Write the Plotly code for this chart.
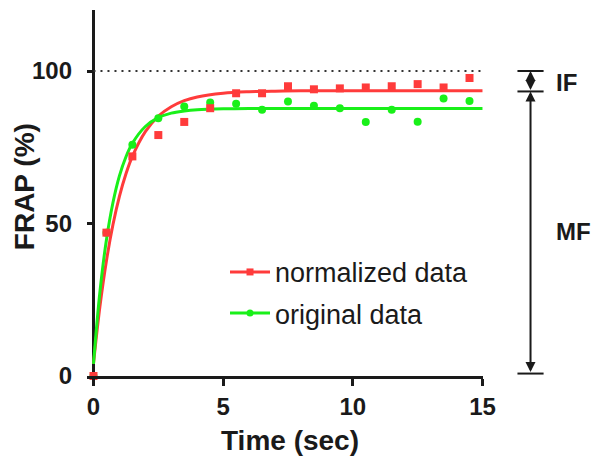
import plotly.graph_objects as go

# ---------------- data ----------------
time_pts = [0, 0.5, 1.5, 2.5, 3.5, 4.5, 5.5, 6.5, 7.5, 8.5, 9.5, 10.5, 11.5, 12.5, 13.5, 14.5]
normalized = [0, 47, 72, 79, 83.3, 87.8, 92.7, 92.7, 95, 94, 94.3, 94.6, 95, 95.7, 94.6, 97.7]
original = [0, 47, 75.8, 84.5, 88.4, 89.7, 89.3, 87.3, 90, 88.6, 87.8, 83.3, 87.3, 83.4, 91, 90.2]

fit_time = [0, 0.25, 0.5, 0.75, 1, 1.25, 1.5, 2, 2.5, 3, 3.5, 4, 5, 6, 7, 8, 10, 12, 15]
fit_normalized = [4, 22.9, 37.8, 49.6, 58.9, 66.2, 72.0, 80.1, 85.2, 88.3, 90.3, 91.5, 92.7, 93.2, 93.4, 93.5, 93.5, 93.5, 93.5]
fit_original = [4, 27.7, 44.7, 56.8, 65.6, 71.8, 76.3, 81.8, 84.7, 86.2, 86.9, 87.3, 87.6, 87.7, 87.7, 87.7, 87.7, 87.7, 87.7]

x_ticks = [0, 5, 10, 15]
y_ticks = [0, 50, 100]
reference_level = 100
plateau_level = 93.3
bottom_level = 0.8

RED = "#ff3b3b"
GREEN = "#19f019"
DARK = "#1a1a1a"
FONT = "Liberation Sans"

fig = go.Figure()

# fitted curves
fig.add_trace(go.Scatter(x=fit_time, y=fit_normalized, mode="lines", line=dict(color=RED, width=3, shape="spline"),
                         showlegend=False, cliponaxis=False))
fig.add_trace(go.Scatter(x=fit_time, y=fit_original, mode="lines", line=dict(color=GREEN, width=3, shape="spline"),
                         showlegend=False, cliponaxis=False))
# data points
fig.add_trace(go.Scatter(x=time_pts, y=original, mode="markers", marker=dict(color=GREEN, symbol="circle", size=8),
                         showlegend=False, cliponaxis=False))
fig.add_trace(go.Scatter(x=time_pts, y=normalized, mode="markers", marker=dict(color=RED, symbol="square", size=8),
                         showlegend=False, cliponaxis=False))
# legend entries
fig.add_trace(go.Scatter(x=[None], y=[None], mode="lines+markers", name="normalized data", legendgroup="a",
                         line=dict(color=RED, width=3), marker=dict(color=RED, symbol="square", size=7)))
fig.add_trace(go.Scatter(x=[None], y=[None], mode="lines+markers", name="original data", legendgroup="b",
                         line=dict(color=GREEN, width=3), marker=dict(color=GREEN, symbol="circle", size=7)))

# dotted 100% line
fig.add_shape(type="line", xref="x", yref="y", x0=0, x1=15, y0=reference_level, y1=reference_level,
              line=dict(color="#333333", width=2, dash="2px,5px"))

# IF / MF brackets on the right
bx = 1.12
cap = 0.033
for lvl in (reference_level, plateau_level, bottom_level):
    fig.add_shape(type="line", xref="paper", yref="y", x0=bx - cap, x1=bx + cap, y0=lvl, y1=lvl,
                  line=dict(color=DARK, width=2))
for top, bot in ((reference_level, plateau_level), (plateau_level, bottom_level)):
    fig.add_annotation(xref="paper", yref="y", x=bx, y=top, axref="pixel", ayref="y", ax=0, ay=bot,
                       text="", showarrow=True, arrowhead=2, arrowside="end+start", arrowsize=1,
                       arrowwidth=2, arrowcolor=DARK, standoff=0, startstandoff=0)
fig.add_annotation(xref="paper", yref="y", x=1.18, y=(reference_level + plateau_level) / 2 - 0.3, text="<b>IF</b>",
                   showarrow=False, xanchor="left", yanchor="middle", font=dict(family=FONT, size=24, color=DARK))
fig.add_annotation(xref="paper", yref="y", x=1.18, y=47.3, text="<b>MF</b>",
                   showarrow=False, xanchor="left", yanchor="middle", font=dict(family=FONT, size=24, color=DARK))

# axis titles
fig.add_annotation(xref="paper", yref="paper", x=0.513, y=-0.175, text="<b>Time (sec)</b>", showarrow=False,
                   xanchor="center", yanchor="middle", font=dict(family=FONT, size=28, color=DARK))
fig.add_annotation(xref="paper", yref="paper", x=-0.159, y=0.516, text="<b>FRAP (%)</b>", showarrow=False,
                   textangle=-90, xanchor="center", yanchor="middle", font=dict(family=FONT, size=28, color=DARK))

fig.update_xaxes(range=[-0.25, 15.02], tickvals=x_ticks, ticktext=[str(v) for v in x_ticks],
                 showgrid=False, showline=True, linecolor=DARK, linewidth=2.5,
                 ticks="outside", ticklen=7, tickwidth=2.5, tickcolor=DARK,
                 zeroline=True, zerolinecolor=DARK, zerolinewidth=2.5,
                 tickfont=dict(family=FONT, size=24, color=DARK, weight="bold"))
fig.update_yaxes(range=[0, 120], tickvals=y_ticks, ticktext=[str(v) for v in y_ticks],
                 showgrid=False, showline=False, zeroline=False,
                 ticks="inside", ticklen=7, tickwidth=2.5, tickcolor=DARK, ticklabelstandoff=14,
                 tickfont=dict(family=FONT, size=24, color=DARK, weight="bold"))

fig.update_layout(
    width=594, height=456,
    margin=dict(l=87, r=111, t=10, b=80),
    plot_bgcolor="white", paper_bgcolor="white",
    legend=dict(x=0.3485, y=0.35, xanchor="left", yanchor="top", bgcolor="rgba(0,0,0,0)",
                font=dict(family=FONT, size=27, color=DARK), tracegroupgap=3, itemwidth=40),
    showlegend=True,
)

fig.write_html("out.html", config={"displayModeBar": False},
               post_script="document.body.style.margin='0';document.body.style.overflow='hidden';")
